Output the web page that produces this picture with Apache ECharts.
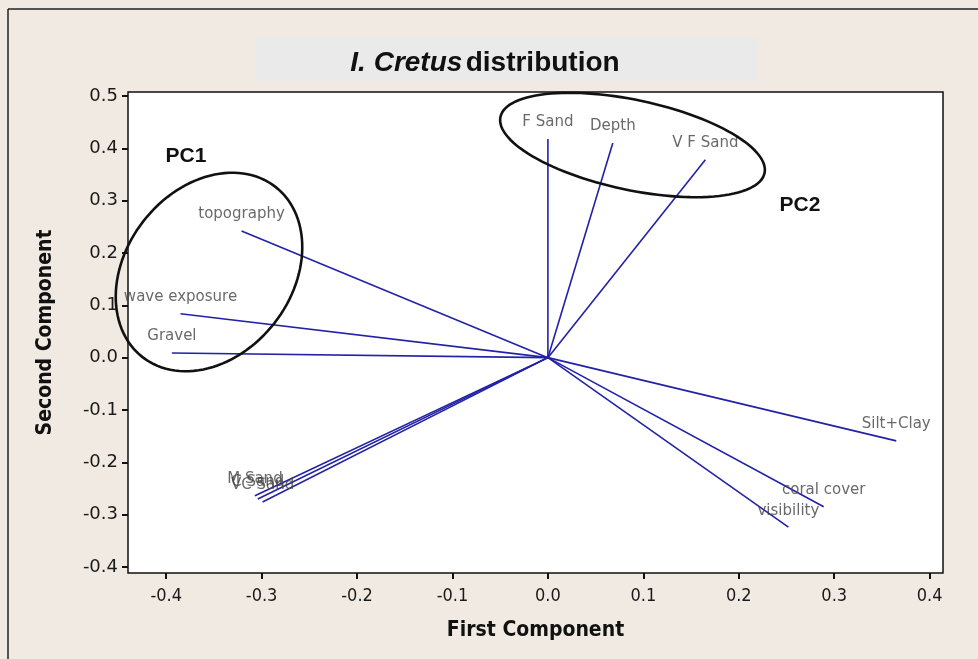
<!DOCTYPE html>
<html>
<head>
<meta charset="utf-8">
<script src="https://cdn.jsdelivr.net/npm/echarts@6/dist/echarts.min.js"></script>
<style>
html,body{margin:0;padding:0;background:#f0eae3;}
#chart{width:978px;height:659px;}
</style>
</head>
<body>
<div id="chart"></div>
<script>
// ---- data ----
var variables = ['F Sand','Depth','V F Sand','topography','wave exposure','Gravel','Silt+Clay','coral cover','visibility','M Sand','C Sand','VC Sand'];
var firstComponent  = [0.000, 0.068, 0.165, -0.321, -0.385, -0.394, 0.365, 0.289, 0.252, -0.307, -0.304, -0.299];
var secondComponent = [0.418, 0.410, 0.378, 0.242, 0.084, 0.009, -0.159, -0.285, -0.324, -0.264, -0.270, -0.276];
var xTicks = [-0.4,-0.3,-0.2,-0.1,0.0,0.1,0.2,0.3,0.4];
var yTicks = [-0.4,-0.3,-0.2,-0.1,0.0,0.1,0.2,0.3,0.4,0.5];
var groupLabels = ['PC1','PC2'];

var pts = variables.map(function(n,i){ return [firstComponent[i], secondComponent[i], n]; });

function ellipse(cx, cy, a, b, deg){
  var th = deg*Math.PI/180, out=[];
  for (var k=0;k<120;k++){
    var t = k/120*2*Math.PI;
    out.push([cx + a*Math.cos(th)*Math.cos(t) - b*Math.sin(th)*Math.sin(t),
              cy - (a*Math.sin(th)*Math.cos(t) + b*Math.cos(th)*Math.sin(t))]);
  }
  return out;
}

var chart = echarts.init(document.getElementById('chart'), null, {renderer:'canvas'});
var option = {
  backgroundColor: '#f0eae3',
  animation: false,
  grid: {left:128, right:35, top:92, bottom:86, show:true, backgroundColor:'#ffffff', borderColor:'#111', borderWidth:1.5},
  xAxis: {
    type:'value', min:-0.44, max:0.414,
    axisLine:{show:false, onZero:false},
    splitLine:{show:false},
    axisTick:{show:true, length:6, inside:false, customValues:xTicks, lineStyle:{color:'#111', width:2}},
    axisLabel:{customValues:xTicks, margin:14, fontFamily:'DejaVu Sans Condensed', fontSize:18, color:'#1a1a1a',
      formatter:function(v){return v.toFixed(1);}},
    name:'First Component', nameLocation:'middle', nameGap:47,
    nameTextStyle:{fontFamily:'DejaVu Sans Condensed', fontWeight:'bold', fontSize:21, color:'#111'}
  },
  yAxis: {
    type:'value', min:-0.4115, max:0.5076,
    axisLine:{show:false, onZero:false},
    splitLine:{show:false},
    axisTick:{show:true, length:6, inside:false, customValues:yTicks, lineStyle:{color:'#111', width:2}},
    axisLabel:{customValues:yTicks, margin:10, fontFamily:'DejaVu Sans', fontSize:18, color:'#1a1a1a',
      formatter:function(v){return v.toFixed(1);}},
    name:'Second Component', nameLocation:'middle', nameGap:72, nameRotate:90,
    nameTextStyle:{fontFamily:'DejaVu Sans Condensed', fontWeight:'bold', fontSize:21, color:'#111'}
  },
  series: [
    {
      type:'custom',
      data: pts,
      clip:false,
      renderItem: function(params, api){
        var o = api.coord([0,0]);
        var e = api.coord([api.value(0), api.value(1)]);
        return {type:'line', shape:{x1:o[0],y1:o[1],x2:e[0],y2:e[1]},
                style:{stroke:'#2222a6', lineWidth:1.6}};
      },
      z:3
    },
    {
      type:'scatter',
      data: pts,
      symbolSize: 0,
      label:{show:true, position:'top', distance:9, formatter:function(p){return p.data[2];},
        fontFamily:'DejaVu Sans', fontSize:15, color:'#444'},
      z:4
    }
  ],
  graphic: [
    {type:'line', shape:{x1:8,y1:9,x2:978,y2:9}, style:{stroke:'#222', lineWidth:1.5}},
    {type:'line', shape:{x1:8,y1:9,x2:8,y2:659}, style:{stroke:'#222', lineWidth:1.5}},
    {type:'rect', shape:{x:256,y:37,width:502,height:44}, style:{fill:'#eaeaea'}},
    {type:'text', x:485, y:63, style:{
      text:'{i|I. Cretus} {b|distribution}', align:'center', verticalAlign:'middle',
      rich:{
        i:{fontFamily:'Liberation Sans', fontStyle:'italic', fontWeight:'bold', fontSize:28, fill:'#111'},
        b:{fontFamily:'Liberation Sans', fontWeight:'bold', fontSize:28, fill:'#111'}
      }}},
    {type:'polygon', shape:{points:ellipse(209,272,108,83,52)}, style:{fill:'none', stroke:'#111', lineWidth:2.6}, z:10},
    {type:'polygon', shape:{points:ellipse(632.5,145,135,45,-12)}, style:{fill:'none', stroke:'#111', lineWidth:2.6}, z:10},
    {type:'text', x:186, y:156, style:{text:groupLabels[0], align:'center', verticalAlign:'middle',
      fontFamily:'Liberation Sans', fontWeight:'bold', fontSize:21, fill:'#111'}, z:10},
    {type:'text', x:800, y:205, style:{text:groupLabels[1], align:'center', verticalAlign:'middle',
      fontFamily:'Liberation Sans', fontWeight:'bold', fontSize:21, fill:'#111'}, z:10}
  ]
};
chart.setOption(option);
</script>
</body>
</html>
